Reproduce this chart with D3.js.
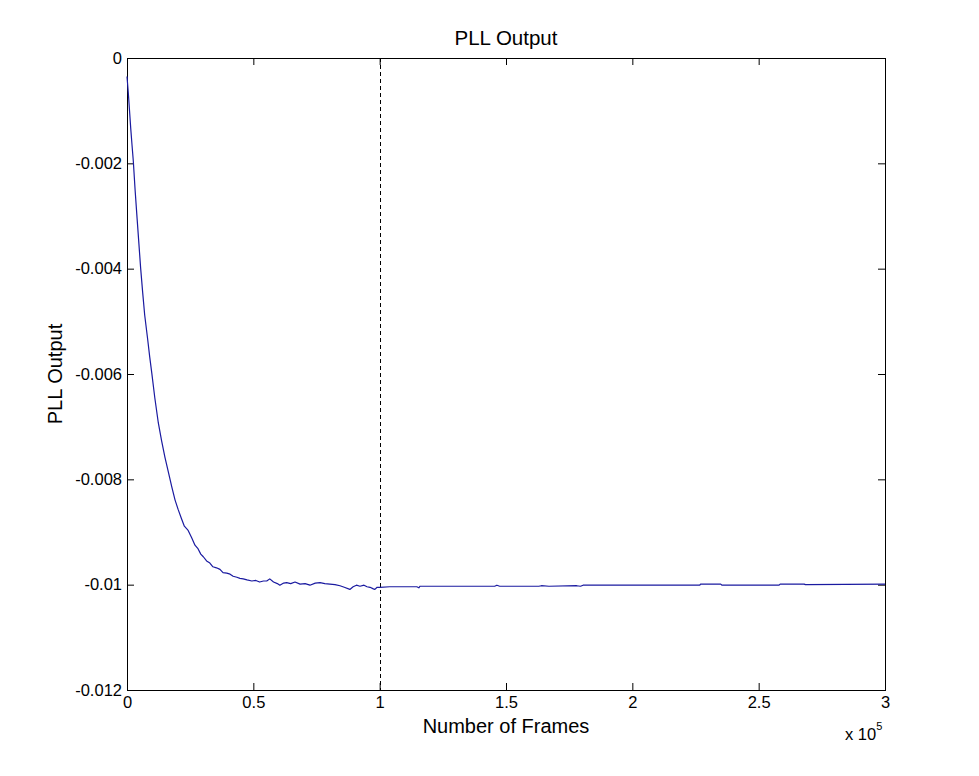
<!DOCTYPE html>
<html>
<head>
<meta charset="utf-8">
<script src="https://cdn.jsdelivr.net/npm/d3@7"></script>
<style>
  html, body { margin: 0; padding: 0; background: #ffffff; }
  svg { display: block; font-family: "Liberation Sans", Arial, Helvetica, sans-serif; }
</style>
</head>
<body>
<svg id="chart" width="979" height="776"></svg>
<script>
// ---- Data ----
const frames = [
  0, 500, 1000, 1500, 2000, 2500, 3200, 4000, 4700, 5400,
  6200, 7000, 8200, 9000, 9800, 11000, 12400, 13700, 15000, 16400,
  17700, 19000, 20300, 21500, 22700, 24200, 25600, 26900, 28000, 29200,
  30200, 31500, 32800, 34000, 35400, 36800, 38000, 39500, 40800, 42000,
  43500, 44700, 46000, 47500, 49400, 51000, 52500, 54000, 55300, 56500,
  58000, 59500, 60500, 62000, 63200, 64800, 66500, 68500, 70500, 72400,
  74500, 76400, 78300, 80300, 82300, 84300, 86000, 88200, 89500, 90800,
  92200, 93800, 95000, 96200, 97500, 98100, 99000, 100100,
  104000, 114700, 115500, 116000, 145500, 146400, 147500, 163000, 164000, 167000,
  178000, 179500, 180500, 183000, 226700, 227000, 235000, 235500, 258000, 258500,
  268000, 268500, 300000
];
const pllOutput = [
  -0.00035, -0.00065, -0.00100, -0.00135, -0.00166, -0.00196, -0.00250, -0.00305, -0.00352, -0.00399,
  -0.00445, -0.00488, -0.00535, -0.00568, -0.00598, -0.00645, -0.00693, -0.00727, -0.00758, -0.00787,
  -0.00814, -0.00839, -0.00858, -0.00874, -0.00889, -0.00897, -0.00911, -0.00925, -0.00931, -0.00942,
  -0.00947, -0.00955, -0.00959, -0.00966, -0.00968, -0.00971, -0.00977, -0.00978, -0.00980, -0.00984,
  -0.00986, -0.00988, -0.00989, -0.00991, -0.00993, -0.00992, -0.00995, -0.00993, -0.00993, -0.00989,
  -0.00995, -0.00998, -0.01001, -0.00997, -0.00996, -0.00998, -0.00995, -0.00999, -0.00998, -0.01001,
  -0.00997, -0.00996, -0.00998, -0.00999, -0.01000, -0.01002, -0.01005, -0.01009, -0.01004, -0.01001,
  -0.01003, -0.01001, -0.01004, -0.01005, -0.01008, -0.01009, -0.01005, -0.01005,
  -0.01004, -0.01004, -0.01006, -0.01003, -0.01003, -0.01001, -0.01003, -0.01003, -0.01002, -0.01003,
  -0.01002, -0.01003, -0.01001, -0.01001, -0.01001, -0.00999, -0.00999, -0.01001, -0.01001, -0.00999,
  -0.00999, -0.01000, -0.00999
];
const xTicks = [0, 50000, 100000, 150000, 200000, 250000, 300000];
const xTickLabels = ["0", "0.5", "1", "1.5", "2", "2.5", "3"];
const yTicks = [0, -0.002, -0.004, -0.006, -0.008, -0.01, -0.012];
const yTickLabels = ["0", "-0.002", "-0.004", "-0.006", "-0.008", "-0.01", "-0.012"];
const markerFrame = [100000];
const titleText = "PLL Output";
const xLabelText = "Number of Frames";
const yLabelText = "PLL Output";

// ---- Layout ----
const W = 979, H = 776;
const plot = { left: 127, right: 885, top: 58, bottom: 690 };
const lineColor = "#1a1aa0";

const svg = d3.select("#chart");
svg.append("rect").attr("width", W).attr("height", H).attr("fill", "#ffffff");

const x = d3.scaleLinear().domain([0, 300000]).range([plot.left, plot.right]);
const y = d3.scaleLinear().domain([-0.012, 0]).range([plot.bottom, plot.top]);

const tickLen = 7;
const fmtX = d => xTickLabels[xTicks.indexOf(d)];
const fmtY = d => yTickLabels[yTicks.indexOf(d)];

function styleAxis(g, showText) {
  g.select(".domain").remove();
  g.selectAll(".tick line").attr("stroke", "#000").attr("stroke-width", 1);
  g.selectAll(".tick text")
    .attr("fill", "#000")
    .style("font-size", "16.5px")
    .style("font-family", '"Liberation Sans", Arial, sans-serif');
  if (!showText) g.selectAll(".tick text").remove();
}

// bottom axis
svg.append("g")
  .attr("transform", `translate(0,${plot.bottom})`)
  .call(d3.axisBottom(x).tickValues(xTicks).tickFormat(fmtX).tickSize(-tickLen).tickPadding(6))
  .call(g => styleAxis(g, true));
// top axis (ticks only)
svg.append("g")
  .attr("transform", `translate(0,${plot.top})`)
  .call(d3.axisTop(x).tickValues(xTicks).tickSize(-tickLen))
  .call(g => styleAxis(g, false));
// left axis
svg.append("g")
  .attr("transform", `translate(${plot.left},0)`)
  .call(d3.axisLeft(y).tickValues(yTicks).tickFormat(fmtY).tickSize(-tickLen).tickPadding(5))
  .call(g => styleAxis(g, true));
// right axis (ticks only)
svg.append("g")
  .attr("transform", `translate(${plot.right},0)`)
  .call(d3.axisRight(y).tickValues(yTicks).tickSize(-tickLen))
  .call(g => styleAxis(g, false));

// box
svg.append("rect")
  .attr("x", plot.left + 0.5).attr("y", plot.top + 0.5)
  .attr("width", plot.right - plot.left).attr("height", plot.bottom - plot.top)
  .attr("fill", "none").attr("stroke", "#000").attr("stroke-width", 1);

// dashed marker line
svg.selectAll("line.marker").data(markerFrame).enter().append("line")
  .attr("class", "marker")
  .attr("x1", d => Math.round(x(d)) + 0.5).attr("x2", d => Math.round(x(d)) + 0.5)
  .attr("y1", plot.top).attr("y2", plot.bottom)
  .attr("stroke", "#000").attr("stroke-width", 1).attr("stroke-dasharray", "4,3");

// data line
const data = frames.map((f, i) => ({ f, v: pllOutput[i] }));
const line = d3.line().x(d => x(d.f)).y(d => y(d.v));
svg.append("path").datum(data)
  .attr("d", line)
  .attr("fill", "none")
  .attr("stroke", lineColor)
  .attr("stroke-width", 1.2)
  .attr("stroke-linejoin", "round");

// title & labels
svg.append("text").attr("x", (plot.left + plot.right) / 2).attr("y", 45)
  .attr("text-anchor", "middle").style("font-size", "20.5px").attr("fill", "#000").text(titleText);
svg.append("text").attr("x", (plot.left + plot.right) / 2).attr("y", 733)
  .attr("text-anchor", "middle").style("font-size", "20px").attr("fill", "#000").text(xLabelText);
svg.append("text")
  .attr("transform", `translate(62,${(plot.top + plot.bottom) / 2}) rotate(-90)`)
  .attr("text-anchor", "middle").style("font-size", "20px").attr("fill", "#000").text(yLabelText);

// exponent label  x 10^5
const expo = svg.append("text").attr("x", 845).attr("y", 740).style("font-size", "16.5px").attr("fill", "#000");
expo.append("tspan").text("x 10");
expo.append("tspan").attr("dy", -10).style("font-size", "11px").text("5");
</script>
</body>
</html>
